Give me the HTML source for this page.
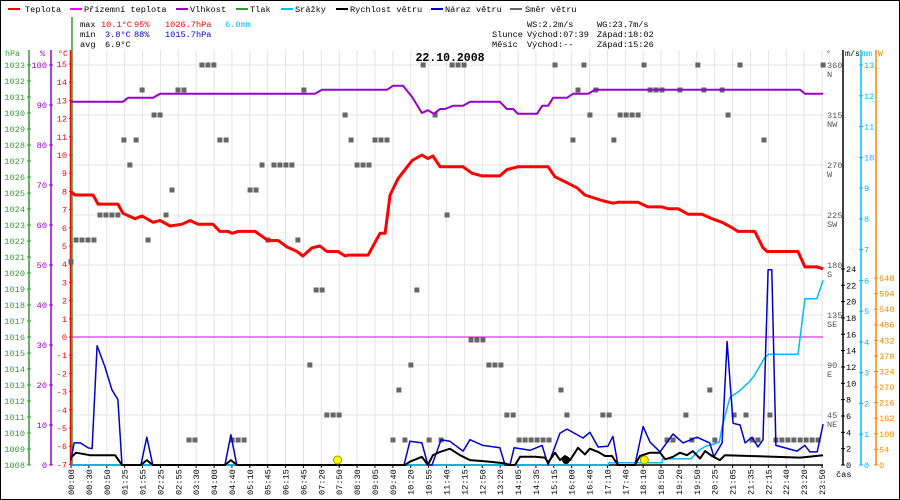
<!DOCTYPE html>
<html><head><meta charset="utf-8">
<style>
html,body{margin:0;padding:0;background:#fff;}
svg{display:block;font-family:"Liberation Mono",monospace;}
</style></head>
<body>
<svg id="chart" width="900" height="500" viewBox="0 0 900 500" xmlns="http://www.w3.org/2000/svg">
<rect x="0.5" y="0.5" width="899" height="499" fill="#fff" stroke="#000"/>
<g id="grid"></g>
<g id="legend" font-size="8.6">
 <g><rect x="8" y="8" width="12" height="2" fill="#f00"/><text x="25" y="12">Teplota</text></g>
 <g><rect x="70" y="8" width="12" height="2" fill="#f0f"/><text x="84" y="12">Přízemní teplota</text></g>
 <g><rect x="176" y="8" width="12" height="2" fill="#90c"/><text x="190" y="12">Vlhkost</text></g>
 <g><rect x="236" y="8" width="12" height="2" fill="#393"/><text x="250" y="12">Tlak</text></g>
 <g><rect x="281" y="8" width="12" height="2" fill="#0bf"/><text x="295" y="12">Srážky</text></g>
 <g><rect x="336" y="8" width="12" height="2" fill="#000"/><text x="350" y="12">Rychlost větru</text></g>
 <g><rect x="431" y="8" width="12" height="2" fill="#00c"/><text x="445" y="12">Náraz větru</text></g>
 <g><rect x="510" y="8" width="12" height="2" fill="#666"/><text x="525" y="12">Směr větru</text></g>
</g>
<g font-size="8.6">
 <text x="80" y="27">max</text><text x="101" y="27" fill="#f00">10.1°C</text><text x="134" y="27" fill="#f00">95%</text><text x="165" y="27" fill="#f00">1026.7hPa</text><text x="225" y="27" fill="#0bf">6.0mm</text>
 <text x="80" y="37">min</text><text x="105" y="37" fill="#00c">3.8°C</text><text x="134" y="37" fill="#00c">88%</text><text x="165" y="37" fill="#00c">1015.7hPa</text>
 <text x="80" y="47">avg</text><text x="105" y="47">6.9°C</text>
 <text x="527" y="27">WS:2.2m/s</text><text x="597" y="27">WG:23.7m/s</text>
 <text x="492" y="37">Slunce</text><text x="527" y="37">Východ:07:39</text><text x="597" y="37">Západ:18:02</text>
 <text x="492" y="47">Měsíc</text><text x="527" y="47">Východ:--</text><text x="597" y="47">Západ:15:26</text>
</g>
<text x="450" y="61" text-anchor="middle" font-size="11.5" font-weight="bold">22.10.2008</text>
<g id="axes" font-size="8.6"></g>
<g id="series"></g>
</svg>
<script>
// ---- data ----
const timeLabels = ["00:00","00:30","00:50","01:25","01:55","02:25","02:55","03:30","04:00","04:40","05:10","05:45","06:15","06:45","07:20","07:50","08:30","09:05","09:40","10:20","10:55","11:40","12:15","12:50","13:20","14:05","14:35","15:15","16:00","16:40","17:10","17:40","18:10","18:50","19:20","19:50","20:25","21:05","21:35","22:15","22:40","23:20","23:50"];
const tempHours = [0,0.13,0.70,0.86,1.49,1.65,2.03,2.26,2.61,2.83,3.15,3.53,3.78,4.04,4.51,4.73,4.99,5.12,5.31,5.85,6.26,6.58,6.86,7.18,7.37,7.66,7.91,8.13,8.48,8.71,8.80,9.44,9.82,9.98,10.14,10.39,10.84,11.15,11.34,11.50,11.73,12.46,12.74,13.06,13.63,13.85,14.20,15.16,15.38,15.79,16.08,16.33,16.87,17.22,17.38,18.02,18.33,18.78,18.97,19.29,19.61,20.05,20.37,20.69,21.01,21.19,21.73,21.99,22.12,23.10,23.32,23.71,23.90];
const tempVals = [7.97,7.8,7.8,7.3,7.3,6.8,6.5,6.65,6.3,6.4,6.1,6.2,6.4,6.2,6.2,5.8,5.8,5.7,5.8,5.8,5.3,5.3,4.95,4.7,4.45,4.9,5.0,4.7,4.7,4.45,4.5,4.5,5.7,5.7,7.8,8.7,9.7,10.0,9.8,9.95,9.35,9.35,9.0,8.85,8.85,9.2,9.35,9.35,8.8,8.45,8.2,7.8,7.5,7.35,7.4,7.4,7.15,7.15,7.05,7.05,6.75,6.75,6.5,6.3,6.0,5.8,5.8,4.9,4.7,4.7,3.85,3.85,3.75];
const humHours = [0,1.65,1.81,2.61,2.83,7.75,7.98,10.04,10.23,10.55,10.84,11.15,11.34,11.53,11.73,11.88,12.14,12.46,12.68,13.63,13.85,14.05,14.20,14.81,14.97,15.16,15.32,15.76,15.95,16.43,16.65,23.17,23.32,23.9];
const humVals = [90.8,90.8,91.8,91.8,92.8,92.8,93.8,93.8,94.8,94.8,92,88,88.7,87.8,89,89,89.8,89.8,90.8,90.8,89,89,87.8,87.8,89.8,89.8,91.8,91.8,92.8,92.8,93.8,93.8,92.8,92.8];
const gustHours = [0,0.1,0.3,0.54,0.67,0.83,1.08,1.3,1.49,1.62,2.22,2.41,2.6,4.89,5.08,5.27,10.58,10.77,11.15,11.34,11.47,11.76,12.04,12.46,12.68,13.09,13.63,13.79,13.95,14.08,14.59,14.97,15.16,15.54,15.76,16.27,16.49,16.75,17.06,17.22,17.38,17.92,18.18,18.4,18.72,19.13,19.45,19.89,20.3,20.43,20.69,20.85,21.04,21.26,21.42,21.64,21.83,21.99,22.15,22.27,22.4,23.07,23.32,23.48,23.71,23.9];
const gustVals = [0.6,2.7,2.7,2.1,2.0,14.6,12,9.2,8,0,0,3.4,0,0,3.7,0,0,2.9,2.7,0,0,3.1,2.9,1.7,3.1,2.4,2.1,0,0,2.1,1.8,2.4,0,3.9,4.4,3.3,4.0,2.2,2.3,3.5,0,0,4.7,2.8,1.6,3.8,2.7,3.4,2.7,1.0,2.7,15.1,5.1,4.9,2.7,3.4,2.2,3.1,23.9,23.9,2.4,1.7,2.4,1.6,1.6,5.0];
const speedHours = [0,0.16,0.6,1.4,1.62,2.22,2.41,2.6,4.89,5.08,5.27,10.61,10.77,11.15,11.34,11.5,11.73,12.04,12.36,12.68,13.0,13.31,13.79,13.95,14.11,14.27,14.74,15.06,15.16,15.38,15.54,15.7,15.86,16.11,16.33,16.49,16.75,16.97,17.19,17.38,17.92,18.08,18.4,18.72,18.88,19.13,19.35,19.57,19.76,19.99,20.15,20.37,20.62,20.78,23.17,23.9];
const speedVals = [0.9,1.5,1.2,1.2,0,0,0.6,0,0,0.6,0,0,0.4,1.0,0,1.2,1.6,2.0,1.2,0.6,0.5,0.4,0.2,0,0,1.0,1.0,0.9,0.3,1.5,0.6,1.1,0.6,2.1,1.3,2.0,1.6,1.1,1.1,0,0,1.1,1.5,1.5,0.7,1.0,1.5,1.2,1.7,0.8,1.7,1.1,0.6,1.2,0.9,1.2];
const rainHours = [0,17.06,17.1,18.78,18.8,19.7,19.95,20.15,20.46,20.6,20.69,20.94,21.23,21.55,21.71,22.05,22.18,23.1,23.2,23.32,23.7,23.9];
const rainVals = [0,0,0.07,0.07,0.2,0.2,0.47,0.6,0.7,0.74,1.24,2.2,2.4,2.7,2.9,3.5,3.6,3.6,4.4,5.4,5.4,6.0];
const dirHours = [4.16,4.35,4.54,11.19,12.11,12.30,12.49,15.38,16.30,18.21,19.92,21.26,23.90,
 2.26,3.40,3.59,7.40,16.11,16.68,18.40,18.59,18.78,19.35,20.11,20.69,
 2.64,2.83,8.71,11.57,16.49,17.45,17.64,17.83,18.02,20.88,
 1.68,2.07,4.73,4.93,8.90,9.66,9.85,10.04,15.95,17.25,22.02,
 1.87,6.07,6.45,6.64,6.83,7.02,9.09,9.28,9.47,
 3.21,5.69,5.88,
 0.92,1.11,1.30,1.49,3.02,11.95,
 0.16,0.35,0.54,0.73,2.45,6.26,7.21,
 0,
 7.79,7.98,10.99,
 12.71,12.90,13.09,
 7.59,10.80,13.28,13.47,13.66,
 10.42,15.57,20.30,
 8.13,8.33,8.52,13.85,14.05,15.76,16.90,17.10,19.54,21.07,21.45,22.21,
 3.75,3.94,5.12,5.31,5.50,10.23,10.61,11.38,11.76,14.24,14.43,14.62,14.81,15.0,15.19,18.94,19.13,19.73,20.46,21.64,21.83,22.40,22.59,22.78,22.97,23.17,23.36,23.55,23.74];
const dirDeg = [360,360,360,360,360,360,360,360,360,360,360,360,360,
 337.5,337.5,337.5,337.5,337.5,337.5,337.5,337.5,337.5,337.5,337.5,337.5,
 315,315,315,315,315,315,315,315,315,315,
 292.5,292.5,292.5,292.5,292.5,292.5,292.5,292.5,292.5,292.5,292.5,
 270,270,270,270,270,270,270,270,270,
 247.5,247.5,247.5,
 225,225,225,225,225,225,
 202.5,202.5,202.5,202.5,202.5,202.5,202.5,
 183,
 157.5,157.5,157.5,
 112.5,112.5,112.5,
 90,90,90,90,90,
 67.5,67.5,67.5,
 45,45,45,45,45,45,45,45,45,45,45,45,
 22.5,22.5,22.5,22.5,22.5,22.5,22.5,22.5,22.5,22.5,22.5,22.5,22.5,22.5,22.5,22.5,22.5,22.5,22.5,22.5,22.5,22.5,22.5,22.5,22.5,22.5,22.5,22.5,22.5];
const hpaTicks = [1033,1032,1031,1030,1029,1028,1027,1026,1025,1024,1023,1022,1021,1020,1019,1018,1017,1016,1015,1014,1013,1012,1011,1010,1009,1008];
const humTicks = [100,90,80,70,60,50,40,30,20,10,0];
const tempTicks = [15,14,13,12,11,10,9,8,7,6,5,4,3,2,1,0,-1,-2,-3,-4,-5,-6,-7];
const dirTicks = [360,315,270,225,180,135,90,45];
const dirNames = ["N","NW","W","SW","S","SE","E","NE"];
const msTicks = [24,22,20,18,16,14,12,10,8,6,4,2,0];
const mmTicks = [13,12,11,10,9,8,7,6,5,4,3,2,1,0];
const wTicks = [648,594,540,486,432,378,324,270,216,162,108,54,0];
const sunHours = [8.47,18.22];
const moonHours = [15.73];

// ---- scales ----
const X0 = 71, PXH = 31.47, YB = 465;
const xH = h => X0 + h * PXH;
const yT = t => 337 - t * 18.2;
const yHum = v => YB - v * 4;
const yHpa = p => YB - (p - 1008) * 16;
const yMs = v => YB - v * 8.17;
const yMm = v => YB - v * 30.77;
const yW = v => YB - v * 0.2886;
const yDir = d => YB - d * 1.1111;
const NS = "http://www.w3.org/2000/svg";
function mk(tag, attrs, parent, txt) {
  const e = document.createElementNS(NS, tag);
  for (const k in attrs) e.setAttribute(k, attrs[k]);
  if (txt !== undefined) e.textContent = txt;
  parent.appendChild(e);
  return e;
}
const grid = document.getElementById('grid');
const axes = document.getElementById('axes');
const series = document.getElementById('series');

timeLabels.forEach((lab, i) => {
  const x = X0 + i * (751 / 42);
  const gl = mk('line', {x1: x, y1: 50, x2: x, y2: YB, stroke: '#e4e4e4', 'stroke-width': 1}, grid);
  
  
  const tk = mk('line', {x1: x, y1: YB, x2: x, y2: YB + 3, stroke: '#000'}, axes);
  
  
  const t = mk('text', {x: 0, y: 0, transform: `translate(${x + 3},495) rotate(-90)`, 'font-size': 8.6}, axes, lab);
  
  
});
dirTicks.forEach(d => {
  const gl = mk('line', {x1: X0, y1: yDir(d), x2: 823, y2: yDir(d), stroke: '#e4e4e4'}, grid);
  
  
});

function vAxis(x, y1, y2, color, name) {
  const l = mk('line', {x1: x, y1: y1, x2: x, y2: y2, stroke: color, 'stroke-width': 1.5}, axes);
  
  
}
vAxis(29, 50, YB, '#393', 'hpa-axis');
vAxis(51, 50, YB, '#90c', 'humidity-axis');
vAxis(843, 50, YB, '#000', 'wind-speed-axis');
vAxis(861, 50, YB, '#0bf', 'rain-axis');
vAxis(876, 50, YB, '#f80', 'radiation-axis');

function tickLabels(ticks, yf, axisX, color, name, side) {
  ticks.forEach(v => {
    const y = yf(v);
    const tk = mk('line', {x1: axisX - 2, y1: y, x2: axisX + 2, y2: y, stroke: color}, axes);
    
    
    const t = mk('text', side === 'left'
      ? {x: axisX - 4, y: y + 3, fill: color, 'text-anchor': 'end'}
      : {x: axisX + 3, y: y + 3, fill: color}, axes, String(v));
    
    
  });
}
tickLabels(hpaTicks, yHpa, 29, '#393', 'hpa', 'left');
tickLabels(humTicks, yHum, 51, '#90c', 'humidity', 'left');
tickLabels(tempTicks, yT, 71, '#f00', 'temp', 'left');
tickLabels(msTicks, yMs, 843, '#000', 'ms', 'right');
tickLabels(mmTicks, yMm, 861, '#0bf', 'mm', 'right');
tickLabels(wTicks, yW, 876, '#f80', 'w', 'right');
dirTicks.forEach((d, i) => {
  const y = yDir(d);
  const t = mk('text', {x: 827, y: y + 3, fill: '#555'}, axes, String(d));
  
  
  const n = mk('text', {x: 827, y: y + 12, fill: '#555'}, axes, dirNames[i]);
  
  
});
[['hPa', 5, '#393', 'hpa-axis-title'], ['%', 40, '#90c', 'humidity-axis-title'], ['°C', 58, '#f00', 'temp-axis-title'],
 ['°', 826, '#555', 'direction-axis-title'], ['m/s', 845, '#000', 'ms-axis-title'], ['mm', 862, '#0bf', 'mm-axis-title'], ['W', 878, '#f80', 'w-axis-title']]
 .forEach(a => {
  const t = mk('text', {x: a[1], y: 56, fill: a[2], 'font-size': 8.3}, axes, a[0]);
  
  
 });
const cas = mk('text', {x: 836, y: 477, 'font-size': 8.6}, axes, 'čas');



const pl = mk('line', {x1: 72, y1: 17, x2: 72, y2: YB, stroke: '#393', 'stroke-width': 1.5}, axes);


vAxis(70.5, 50, YB, '#f00', 'temp-axis');
const zl = mk('line', {x1: X0, y1: yT(0), x2: 823, y2: yT(0), stroke: '#d0d', 'stroke-width': 1}, series);



dirHours.forEach((h, i) => {
  const r = mk('rect', {x: xH(h) - 2.5, y: yDir(dirDeg[i]) - 2.5, width: 5, height: 5, fill: '#666'}, series);
  
  
});

function line(hs, vs, yf, color, w, name) {
  const pts = hs.map((h, i) => xH(h).toFixed(1) + ',' + yf(vs[i]).toFixed(1)).join(' ');
  const p = mk('polyline', {points: pts, fill: 'none', stroke: color, 'stroke-width': w, 'stroke-linejoin': 'round'}, series);
  
  
}
line(humHours, humVals, yHum, '#90c', 2, 'humidity-line');
line(tempHours, tempVals, yT, '#f00', 3, 'temperature-line');
const bl = mk('line', {x1: X0, y1: YB, x2: 823, y2: YB, stroke: '#000', 'stroke-width': 1.5}, series);


line(rainHours, rainVals, yMm, '#0bf', 1.5, 'rain-line');
line(gustHours, gustVals, yMs, '#00c', 1.5, 'wind-gust-line');
line(speedHours, speedVals, yMs, '#000', 2, 'wind-speed-line');

sunHours.forEach(h => {
  const c = mk('circle', {cx: xH(h), cy: 460, r: 4, fill: '#ff0', stroke: '#990', 'stroke-width': 1}, series);
  
  
});
moonHours.forEach(h => {
  const c = mk('circle', {cx: xH(h), cy: 460, r: 4, fill: '#000'}, series);
  
  
});
</script>
</body></html>
